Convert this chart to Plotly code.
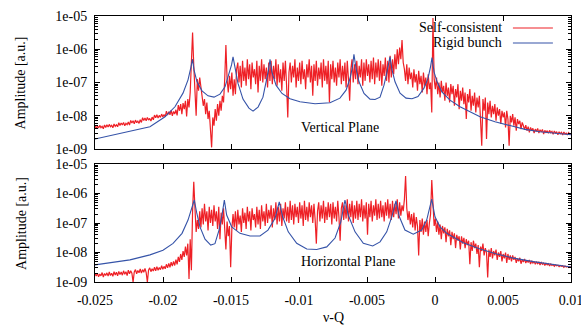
import numpy as np
import plotly.graph_objects as go

# ---------------- data ----------------
x_min, x_max = -0.025, 0.01

# Self-consistent spectrum, vertical plane (log10 amplitude, uniformly sampled in nu-Q)
vert_red_log = [
    -8.30, -8.38, -8.31, -8.37, -8.29, -8.36, -8.32, -8.39, -8.28, -8.35,
    -8.27, -8.34, -8.26, -8.33, -8.29, -8.36, -8.25, -8.32, -8.27, -8.33,
    -8.21, -8.29, -8.22, -8.28, -8.20, -8.30, -8.23, -8.27, -8.19, -8.28,
    -8.14, -8.22, -8.15, -8.24, -8.13, -8.21, -8.16, -8.23, -8.12, -8.20,
    -8.06, -8.14, -8.07, -8.15, -8.05, -8.13, -8.08, -8.16, -8.04, -8.12,
    -7.98, -8.06, -7.97, -8.07, -7.99, -8.05, -7.95, -8.04, -7.96, -8.03,
    -7.86, -7.98, -7.88, -7.97, -7.84, -8.00, -7.87, -7.95, -7.82, -7.99,
    -7.68, -7.85, -7.65, -7.95, -7.62, -7.80, -7.55, -8.02, -7.50, -7.75,
    -7.30, -6.60, -5.50, -6.50, -7.20, -8.00, -6.90, -7.25, -6.85, -7.20,
    -7.45, -7.70, -7.50, -7.95, -7.60, -8.10, -7.85, -8.40, -8.95, -8.05,
    -8.30, -7.80, -8.15, -7.65, -8.00, -7.55, -7.85, -7.40, -7.60, -6.90,
    -5.87, -6.90, -7.30, -6.80, -7.20, -6.70, -7.40, -6.90, -7.35, -6.60,
    -6.40, -7.00, -6.50, -7.15, -6.35, -6.95, -6.55, -7.10, -6.30, -6.90,
    -6.45, -7.20, -6.40, -6.85, -6.60, -7.05, -6.35, -7.30, -6.50, -6.95,
    -6.30, -7.00, -6.45, -6.90, -6.55, -7.15, -6.40, -6.95, -6.35, -7.05,
    -6.50, -6.90, -6.30, -7.10, -6.45, -7.00, -6.60, -7.25, -6.40, -6.95,
    -6.35, -7.10, -8.05, -6.70, -6.40, -7.00, -6.50, -6.85, -6.30, -7.15,
    -6.55, -6.95, -6.40, -7.05, -6.35, -6.90, -6.60, -7.20, -6.45, -6.85,
    -6.30, -7.00, -6.50, -7.40, -6.45, -6.95, -6.35, -7.10, -6.55, -6.90,
    -6.40, -7.15, -6.30, -6.95, -6.50, -7.05, -6.35, -7.60, -6.45, -6.90,
    -6.35, -7.00, -6.55, -7.10, -6.40, -6.85, -6.30, -7.05, -6.50, -6.95,
    -6.40, -7.15, -6.35, -6.90, -7.55, -6.60, -6.30, -7.00, -6.45, -6.90,
    -6.35, -7.05, -6.50, -6.85, -6.30, -7.10, -6.40, -6.95, -6.30, -6.80,
    -6.45, -7.00, -6.35, -6.90, -6.25, -7.05, -6.40, -6.85, -6.30, -6.95,
    -6.35, -7.10, -6.45, -6.80, -6.25, -6.95, -6.35, -7.00, -6.20, -6.85,
    -6.30, -6.75, -6.15, -6.60, -6.00, -6.45, -5.95, -6.30, -5.72, -6.40,
    -6.60, -6.95, -6.45, -7.05, -6.55, -6.90, -6.70, -7.15, -6.60, -7.00,
    -6.75, -7.25, -6.65, -7.05, -6.80, -7.30, -6.70, -7.10, -6.85, -7.35,
    -6.75, -7.20, -7.00, -7.90, -5.06, -6.90, -7.20, -6.85, -7.35, -7.00,
    -7.45, -6.95, -7.30, -7.10, -7.55, -7.00, -7.40, -7.15, -7.60, -7.05,
    -7.35, -7.10, -7.70, -7.20, -7.45, -7.05, -7.80, -7.25, -7.55, -7.15,
    -7.65, -7.30, -8.10, -7.35, -7.60, -7.20, -7.85, -7.40, -7.70, -7.30,
    -7.90, -7.45, -7.75, -7.40, -8.20, -8.90, -7.50, -7.85, -7.45, -8.70,
    -7.60, -7.95, -7.55, -8.05, -7.70, -7.95, -7.65, -8.15, -7.75, -8.00,
    -7.80, -8.25, -7.85, -8.05, -7.90, -8.35, -7.85, -8.10, -8.90, -8.00,
    -8.20, -7.95, -8.30, -8.05, -8.45, -8.10, -8.25, -8.15, -8.40, -8.20,
    -8.30, -8.42, -8.28, -8.45, -8.33, -8.50, -8.35, -8.44, -8.38, -8.52,
    -8.40, -8.47, -8.38, -8.52, -8.42, -8.49, -8.41, -8.55, -8.44, -8.50,
    -8.45, -8.53, -8.44, -8.51, -8.47, -8.56, -8.46, -8.52, -8.49, -8.57,
    -8.48, -8.54, -8.50, -8.58, -8.49, -8.55, -8.52, -8.58, -8.51, -8.56,
    -8.55,
]

# Self-consistent spectrum, horizontal plane
horiz_red_log = [
    -8.72, -8.80, -8.70, -8.82, -8.73, -8.79, -8.68, -8.83, -8.71, -8.78,
    -8.69, -8.80, -8.66, -8.78, -8.70, -8.81, -8.65, -8.76, -8.67, -8.79,
    -8.64, -8.75, -8.66, -8.77, -8.62, -8.74, -8.65, -8.78, -8.60, -8.72,
    -8.62, -8.70, -9.00, -8.66, -8.58, -8.72, -8.61, -8.69, -8.56, -8.70,
    -8.58, -8.67, -8.54, -8.68, -9.00, -8.60, -8.52, -8.65, -8.55, -8.63,
    -8.50, -8.62, -8.48, -8.60, -8.51, -8.58, -8.45, -8.57, -8.47, -8.55,
    -8.40, -8.52, -8.37, -8.50, -8.33, -8.46, -8.30, -8.44, -8.24, -8.40,
    -8.15, -8.32, -8.05, -8.25, -7.95, -8.15, -7.80, -8.10, -7.70, -8.90,
    -7.55, -8.60, -6.60, -5.60, -6.50, -7.30, -6.90, -7.20, -6.60, -7.15,
    -6.50, -7.05, -6.35, -6.95, -6.60, -7.25, -6.45, -7.00, -6.55, -7.10,
    -6.40, -6.95, -6.60, -7.20, -6.45, -7.55, -6.65, -7.05, -6.50, -7.30,
    -7.90, -6.95, -7.45, -7.10, -8.50, -7.20, -6.70, -7.15, -6.60, -7.25,
    -6.55, -7.05, -6.75, -7.30, -6.50, -7.00, -6.65, -7.20, -6.45, -6.95,
    -6.60, -7.25, -6.50, -6.90, -6.70, -7.15, -6.45, -7.05, -6.55, -7.20,
    -6.40, -6.95, -6.60, -7.10, -6.35, -7.00, -6.55, -6.85, -6.40, -7.15,
    -6.50, -6.90, -6.30, -7.05, -6.45, -6.95, -6.35, -7.10, -6.50, -6.85,
    -6.30, -6.95, -6.45, -7.00, -6.25, -6.90, -6.40, -7.05, -6.35, -6.80,
    -6.45, -7.00, -6.30, -6.85, -6.40, -7.10, -6.25, -6.90, -6.45, -6.95,
    -6.30, -6.80, -6.40, -7.00, -6.35, -6.90, -7.70, -6.60, -6.30, -6.95,
    -6.40, -6.85, -6.25, -7.00, -6.45, -6.90, -6.30, -6.80, -6.35, -7.05,
    -6.30, -6.85, -6.45, -6.95, -6.25, -6.80, -7.60, -6.50, -6.30, -6.90,
    -6.40, -6.85, -6.20, -6.95, -6.35, -6.80, -6.25, -7.00, -6.40, -6.85,
    -6.25, -6.90, -6.35, -6.80, -6.20, -6.95, -6.40, -6.85, -6.30, -7.40,
    -6.35, -6.80, -6.25, -6.95, -6.40, -6.75, -6.20, -6.90, -6.35, -6.85,
    -6.25, -6.80, -6.40, -6.95, -6.30, -6.75, -6.20, -6.85, -6.35, -6.90,
    -6.25, -6.80, -6.35, -6.70, -6.20, -6.85, -6.30, -6.75, -6.40, -6.60,
    -6.20, -5.41, -6.50, -6.90, -6.60, -7.05, -6.70, -7.15, -6.65, -7.25,
    -6.80, -7.10, -8.10, -6.90, -7.30, -6.85, -7.40, -6.95, -7.30, -6.90,
    -7.45, -7.00, -6.70, -5.54, -6.60, -7.10, -6.85, -7.30, -6.95, -7.40,
    -7.05, -7.55, -7.10, -7.35, -7.15, -7.65, -7.20, -7.45, -7.25, -7.75,
    -7.30, -7.55, -7.35, -7.85, -7.40, -7.60, -7.45, -7.90, -7.45, -7.70,
    -7.50, -7.85, -7.55, -7.75, -7.60, -8.40, -7.65, -7.95, -7.60, -7.85,
    -7.70, -8.05, -7.75, -8.50, -7.80, -7.95, -7.70, -8.10, -7.85, -8.00,
    -8.85, -7.90, -8.15, -7.85, -8.20, -7.95, -8.10, -7.90, -8.25, -8.00,
    -8.15, -7.95, -8.30, -8.05, -8.20, -8.00, -8.35, -8.05, -8.25, -8.10,
    -8.30, -8.10, -8.25, -8.15, -8.35, -8.20, -8.30, -8.18, -8.38, -8.24,
    -8.32, -8.22, -8.36, -8.26, -8.34, -8.25, -8.39, -8.28, -8.36, -8.30,
    -8.40, -8.31, -8.38, -8.33, -8.42, -8.34, -8.40, -8.36, -8.44, -8.37,
    -8.42, -8.38, -8.46, -8.39, -8.44, -8.41, -8.47, -8.42, -8.45, -8.43,
    -8.48, -8.44, -8.47, -8.45, -8.50, -8.46, -8.49, -8.47, -8.51, -8.48,
    -8.50,
]

# Rigid bunch model, vertical plane
vert_blue_x = [
    -0.02500, -0.02316, -0.02096, -0.01985, -0.01912, -0.01853, -0.01816, -0.01794,
    -0.01783, -0.01772, -0.01750, -0.01713, -0.01669, -0.01625, -0.01581, -0.01544,
    -0.01515, -0.01496, -0.01485, -0.01471, -0.01449, -0.01412, -0.01368, -0.01338,
    -0.01301, -0.01265, -0.01243, -0.01224, -0.01213, -0.01199, -0.01169, -0.01125,
    -0.01066, -0.00993, -0.00882, -0.00772, -0.00699, -0.00654, -0.00625, -0.00607,
    -0.00596, -0.00581, -0.00559, -0.00522, -0.00478, -0.00441, -0.00404, -0.00375,
    -0.00353, -0.00338, -0.00331, -0.00316, -0.00294, -0.00257, -0.00213, -0.00169,
    -0.00125, -0.00081, -0.00051, -0.00033, -0.00022, -0.00007, 0.00015, 0.00051,
    0.00110, 0.00184, 0.00257, 0.00331, 0.00441, 0.00551, 0.00662, 0.00772,
    0.00882, 0.01000,
]
vert_blue_log = [
    -8.70, -8.53, -8.33, -8.03, -7.73, -7.32, -6.92, -6.53,
    -6.30, -6.62, -6.98, -7.25, -7.40, -7.44, -7.35, -7.13,
    -6.77, -6.47, -6.23, -6.57, -7.02, -7.50, -7.77, -7.86,
    -7.74, -7.44, -7.02, -6.62, -6.30, -6.69, -7.08, -7.33,
    -7.49, -7.58, -7.64, -7.61, -7.47, -7.23, -6.88, -6.53,
    -6.15, -6.57, -6.98, -7.33, -7.50, -7.51, -7.44, -7.08,
    -6.68, -6.35, -6.23, -6.62, -6.98, -7.32, -7.47, -7.49,
    -7.42, -7.17, -6.87, -6.53, -6.25, -6.68, -6.98, -7.28,
    -7.53, -7.73, -7.89, -8.03, -8.18, -8.30, -8.41, -8.48,
    -8.53, -8.57,
]

# Rigid bunch model, horizontal plane
horiz_blue_x = [
    -0.02500, -0.02243, -0.02096, -0.02000, -0.01926, -0.01860, -0.01816, -0.01782,
    -0.01770, -0.01752, -0.01728, -0.01691, -0.01649, -0.01618, -0.01588, -0.01566,
    -0.01549, -0.01532, -0.01495, -0.01434, -0.01360, -0.01287, -0.01228, -0.01176,
    -0.01145, -0.01120, -0.01079, -0.01017, -0.00943, -0.00870, -0.00796, -0.00735,
    -0.00693, -0.00662, -0.00638, -0.00588, -0.00527, -0.00458, -0.00404, -0.00355,
    -0.00318, -0.00287, -0.00262, -0.00221, -0.00160, -0.00098, -0.00061, -0.00024,
    0.00000, 0.00037, 0.00086, 0.00208, 0.00331, 0.00454, 0.00576, 0.00723,
    0.00870, 0.01000,
]
horiz_blue_log = [
    -8.42, -8.25, -8.08, -7.92, -7.69, -7.35, -6.90, -6.39,
    -6.22, -6.66, -7.13, -7.55, -7.75, -7.70, -7.24, -6.73,
    -6.22, -6.73, -7.13, -7.35, -7.44, -7.44, -7.24, -6.84,
    -6.28, -6.79, -7.30, -7.69, -7.88, -7.90, -7.81, -7.51,
    -6.97, -6.22, -6.73, -7.30, -7.69, -7.78, -7.64, -7.30,
    -6.79, -6.25, -6.79, -7.24, -7.38, -7.24, -6.90, -6.19,
    -6.79, -7.13, -7.35, -7.67, -7.88, -8.05, -8.19, -8.31,
    -8.40, -8.49,
]

x_ticks = [-0.025, -0.02, -0.015, -0.01, -0.005, 0.0, 0.005, 0.01]
x_tick_labels = ["-0.025", "-0.02", "-0.015", "-0.01", "-0.005", "0", "0.005", "0.01"]
y_ticks = [1e-9, 1e-8, 1e-7, 1e-6, 1e-5]
y_tick_labels = ["1e-09", "1e-08", "1e-07", "1e-06", "1e-05"]

series_names = ["Self-consistent", "Rigid bunch"]
plane_labels = ["Vertical Plane", "Horizontal Plane"]

# ---------------- figure ----------------
RED = "#ee2026"
BLUE = "#3553a8"
FONT = "Liberation Serif, Times New Roman, Times, serif"
FS = 14

vert_red_x = np.linspace(x_min, x_max, len(vert_red_log))
horiz_red_x = np.linspace(x_min, x_max, len(horiz_red_log))

fig = go.Figure()
fig.add_trace(go.Scatter(x=vert_red_x, y=10 ** np.array(vert_red_log), mode="lines",
                         line=dict(color=RED, width=1.2), xaxis="x", yaxis="y",
                         name=series_names[0], showlegend=False, hoverinfo="skip"))
fig.add_trace(go.Scatter(x=vert_blue_x, y=10 ** np.array(vert_blue_log), mode="lines",
                         line=dict(color=BLUE, width=1.1), xaxis="x", yaxis="y",
                         name=series_names[1], showlegend=False, hoverinfo="skip"))
fig.add_trace(go.Scatter(x=horiz_red_x, y=10 ** np.array(horiz_red_log), mode="lines",
                         line=dict(color=RED, width=1.2), xaxis="x2", yaxis="y2",
                         name=series_names[0], showlegend=False, hoverinfo="skip"))
fig.add_trace(go.Scatter(x=horiz_blue_x, y=10 ** np.array(horiz_blue_log), mode="lines",
                         line=dict(color=BLUE, width=1.1), xaxis="x2", yaxis="y2",
                         name=series_names[1], showlegend=False, hoverinfo="skip"))

tickfont = dict(family=FONT, size=FS, color="black")
xcommon = dict(range=[x_min, x_max], tickvals=x_ticks, ticktext=x_tick_labels,
               ticks="inside", ticklen=5, tickcolor="black", showline=True,
               linecolor="black", linewidth=1, mirror="allticks", showgrid=False,
               zeroline=False, tickfont=tickfont, automargin=False,
               ticklabeloverflow="allow")
ycommon = dict(type="log", range=[-9, -5], tickvals=y_ticks, ticktext=y_tick_labels,
               ticks="inside", ticklen=5, tickcolor="black", showline=True,
               linecolor="black", linewidth=1, mirror="allticks", showgrid=False,
               zeroline=False, tickfont=tickfont, ticklabelstandoff=4, automargin=False,
               ticklabeloverflow="allow",
               minor=dict(ticks="inside", ticklen=3, tickcolor="black", dtick="D1",
                          showgrid=False))

top_dom = [0.5, 1.0]
bot_dom = [0.0, 0.4436]

fig.update_layout(
    width=581, height=326,
    margin=dict(l=95, r=10, t=16, b=44),
    paper_bgcolor="white", plot_bgcolor="white",
    font=dict(family=FONT, size=FS, color="black"),
    xaxis=dict(xcommon, anchor="y", domain=[0, 1], showticklabels=False),
    yaxis=dict(ycommon, anchor="x", domain=top_dom),
    xaxis2=dict(xcommon, anchor="y2", domain=[0, 1], matches="x", ticklabelstandoff=5),
    yaxis2=dict(ycommon, anchor="x2", domain=bot_dom),
    showlegend=False,
    hovermode=False,
)

ann = []
for dom in (top_dom, bot_dom):
    ann.append(dict(text="Amplitude [a.u.]", xref="paper", yref="paper",
                    x=-0.1555, y=(dom[0] + dom[1]) / 2, textangle=-90,
                    showarrow=False, xanchor="center", yanchor="middle",
                    font=dict(family=FONT, size=FS)))
ann.append(dict(text="ν-Q", xref="paper", yref="paper", x=0.5, y=-0.135,
                showarrow=False, xanchor="center", yanchor="middle",
                font=dict(family=FONT, size=FS)))
ann.append(dict(text=plane_labels[0], xref="paper", yref="paper", x=0.5147, y=0.5827,
                showarrow=False, xanchor="center", yanchor="middle",
                font=dict(family=FONT, size=FS)))
ann.append(dict(text=plane_labels[1], xref="paper", yref="paper", x=0.5315, y=0.0752,
                showarrow=False, xanchor="center", yanchor="middle",
                font=dict(family=FONT, size=FS)))
# legend (text right-aligned, line sample on the right)
for name, yy, col in ((series_names[0], 0.9549, RED), (series_names[1], 0.8985, BLUE)):
    ann.append(dict(text=name, xref="paper", yref="paper", x=0.8592, y=yy,
                    showarrow=False, xanchor="right", yanchor="middle",
                    font=dict(family=FONT, size=FS)))
    fig.add_shape(type="line", xref="paper", yref="paper", x0=0.878, x1=0.962,
                  y0=yy, y1=yy, line=dict(color=col, width=1.2))
fig.update_layout(annotations=ann)

fig.write_html("out.html", config={"displayModeBar": False},
               post_script="document.body.style.margin='0px';")
